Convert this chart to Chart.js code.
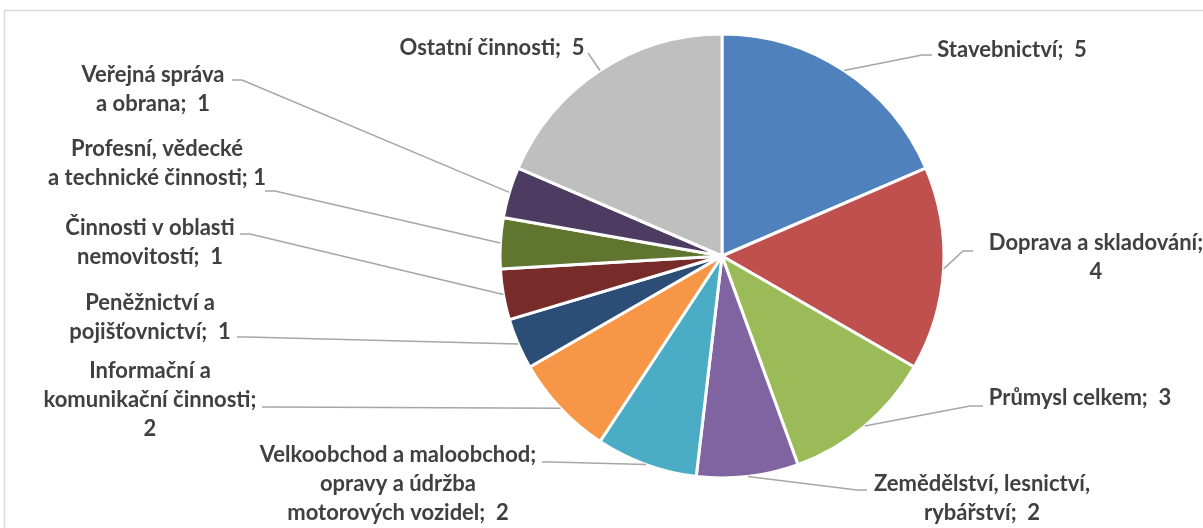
<!DOCTYPE html>
<html><head><meta charset="utf-8">
<script src="https://cdn.jsdelivr.net/npm/chart.js@4"></script>
<style>html,body{margin:0;padding:0;background:#fff;overflow:hidden}#wrap{width:1203px;height:528px;position:relative}canvas{display:block}</style>
</head><body><div id="wrap"><canvas id="c" width="1203" height="528" style="width:1203px;height:528px"></canvas></div>
<script>
// ---- data ----
const categories = [
  "Stavebnictví",
  "Doprava a skladování",
  "Průmysl celkem",
  "Zemědělství, lesnictví, rybářství",
  "Velkoobchod a maloobchod; opravy a údržba motorových vozidel",
  "Informační a komunikační činnosti",
  "Peněžnictví a pojišťovnictví",
  "Činnosti v oblasti nemovitostí",
  "Profesní, vědecké a technické činnosti",
  "Veřejná správa a obrana",
  "Ostatní činnosti"
];
const values = [5, 4, 3, 2, 2, 2, 1, 1, 1, 1, 5];

// ---- styles / layout ----
const colors = ["#4F81BD","#C0504D","#9BBB59","#8064A2","#4BACC6","#F79646",
                "#2C4D75","#772C2A","#5F7530","#4D3B62","#BFBFBF"];
const labelWrap = [
  ["Stavebnictví;  "],
  ["Doprava a skladování;", ""],
  ["Průmysl celkem;  "],
  ["Zemědělství, lesnictví,", "rybářství;  "],
  ["Velkoobchod a maloobchod;", "opravy a údržba", "motorových vozidel;  "],
  ["Informační a", "komunikační činnosti;", ""],
  ["Peněžnictví a", "pojišťovnictví;  "],
  ["Činnosti v oblasti", "nemovitostí;  "],
  ["Profesní, vědecké", "a technické činnosti; "],
  ["Veřejná správa", "a obrana;  "],
  ["Ostatní činnosti;  "]
];
// text block centre and leader-line points, relative to pie centre (px)
const labelPos = [[290,-206],[374,1.5],[358,142],[260,242],[-324,228],[-572,144],[-572,61],[-572,-13.5],[-565,-92.5],[-569,-167],[-230,-208]];
const leaderPts = [
  [[200,-201],[210,-201]],
  [[241,-5],[251,-5]],
  [[248,150],[261,150]],
  [[135,234],[145,234]],
  [[-170,206],[-180,206]],
  [[-450,151],[-460,151]],
  [[-475,81],[-485,81]],
  [[-472,-22],[-482,-22]],
  [[-447,-65],[-457,-65]],
  [[-480,-176],[-490,-176]],
  [[-134,-203]]
];
const FONT = "bold 22px Lato";
const LINE_H = 29;

const frame = {
  id: 'frame',
  beforeDraw(chart) {
    const ctx = chart.ctx;
    ctx.save();
    ctx.strokeStyle = '#D9D9D9';
    ctx.lineWidth = 1.5;
    ctx.beginPath();
    ctx.moveTo(4.5, 528); ctx.lineTo(4.5, 10.5); ctx.lineTo(1203, 10.5);
    ctx.stroke();
    ctx.restore();
  }
};

const labelsPlugin = {
  id: 'pieLabels',
  afterDatasetsDraw(chart) {
    const ctx = chart.ctx;
    const meta = chart.getDatasetMeta(0);
    ctx.save();
    meta.data.forEach((arc, i) => {
      const p = arc.getProps(['x','y','startAngle','endAngle','outerRadius'], true);
      const mid = (p.startAngle + p.endAngle) / 2;
      const sx = p.x + Math.cos(mid) * p.outerRadius;
      const sy = p.y + Math.sin(mid) * p.outerRadius;
      ctx.strokeStyle = '#A6A6A6';
      ctx.lineWidth = 1.5;
      ctx.beginPath();
      ctx.moveTo(sx, sy);
      leaderPts[i].forEach(pt => ctx.lineTo(p.x + pt[0], p.y + pt[1]));
      ctx.stroke();

      const lines = labelWrap[i].slice();
      lines[lines.length - 1] = lines[lines.length - 1] + values[i];
      const cx = p.x + labelPos[i][0], cy = p.y + labelPos[i][1];
      ctx.font = FONT;
      ctx.fillStyle = '#404040';
      ctx.textAlign = 'center';
      ctx.textBaseline = 'middle';
      const n = lines.length;
      lines.forEach((t, k) => ctx.fillText(t, cx, cy + (k - (n - 1) / 2) * LINE_H));
    });
    ctx.restore();
  }
};

new Chart(document.getElementById('c'), {
  type: 'pie',
  data: {
    labels: categories,
    datasets: [{
      data: values,
      backgroundColor: colors,
      borderColor: '#FFFFFF',
      borderWidth: 3,
      hoverOffset: 0
    }]
  },
  options: {
    responsive: false,
    animation: false,
    radius: 222,
    layout: { padding: { left: 501, right: 260, top: 35, bottom: 51 } },
    plugins: { legend: { display: false }, tooltip: { enabled: false }, title: { display: false } }
  },
  plugins: [frame, labelsPlugin]
});
</script>
</body></html>
